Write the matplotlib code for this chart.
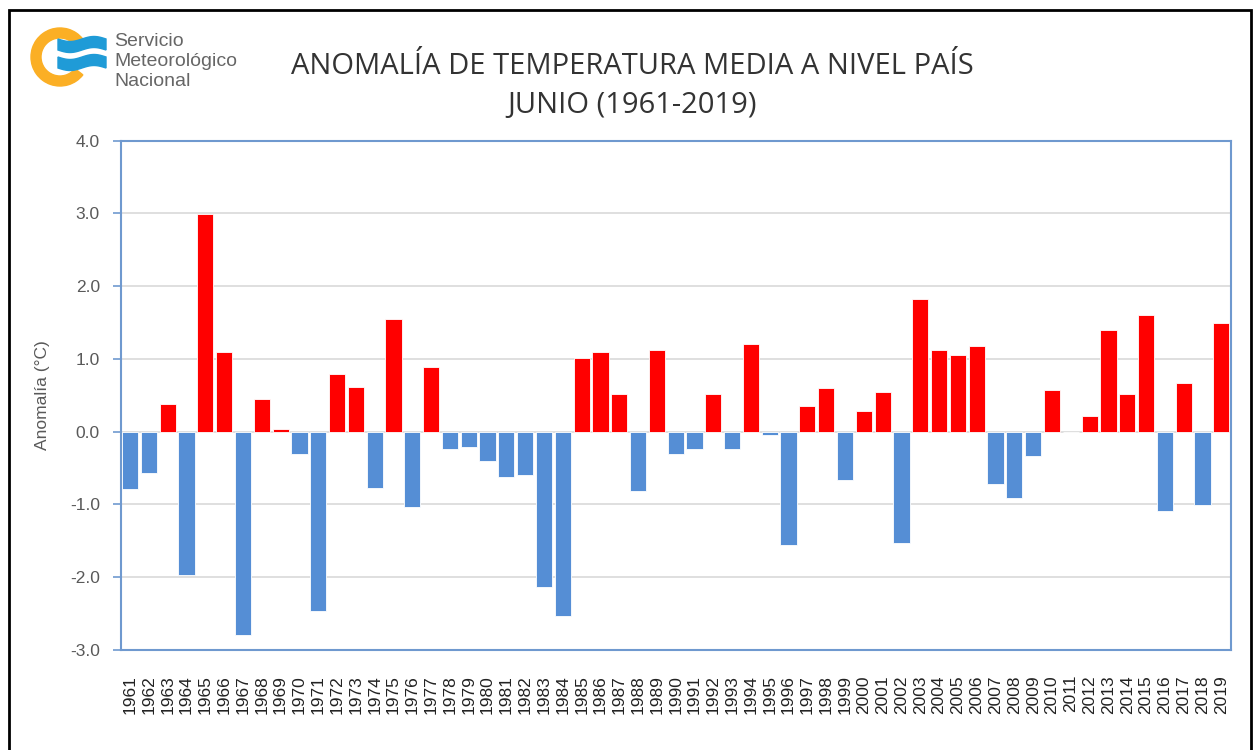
import matplotlib.pyplot as plt
import matplotlib.patches as mpatches
import numpy as np

# June mean temperature anomaly, whole country
years = list(range(1961, 2020))
anomalies = [-0.79, -0.57, 0.38, -1.97, 2.99, 1.09, -2.79, 0.45, 0.04, -0.30,
             -2.46, 0.79, 0.62, -0.77, 1.55, -1.04, 0.89, -0.24, -0.21, -0.40,
             -0.62, -0.60, -2.14, -2.53, 1.01, 1.09, 0.52, -0.82, 1.13, -0.30,
             -0.24, 0.52, -0.24, 1.21, -0.04, -1.55, 0.35, 0.60, -0.67, 0.28,
             0.55, -1.53, 1.82, 1.13, 1.06, 1.18, -0.72, -0.91, -0.33, 0.57,
             0.00, 0.21, 1.40, 0.52, 1.60, -1.09, 0.67, -1.01, 1.50]
yticks = [-3.0, -2.0, -1.0, 0.0, 1.0, 2.0, 3.0, 4.0]

title_font = ['Open Sans', 'DejaVu Sans']
body_font = ['Liberation Sans', 'DejaVu Sans']
red = '#ff0000'
blue = '#558ed5'
axis_blue = '#6f99cf'

fig = plt.figure(figsize=(12.6, 7.5), dpi=100)
W, H = 1260, 750

# outer black frame (cut off at the bottom like the screenshot)
fig.patches.append(mpatches.Rectangle((9 / W, -0.05), (1251 - 9) / W, 1.05 - 10 / H,
                                      transform=fig.transFigure, fill=False,
                                      edgecolor='black', linewidth=2))

ax = fig.add_axes([120.7 / W, 1 - 650 / H, 1110 / W, (650 - 140.7) / H])
x = np.arange(len(years))
colors = [red if v > 0 else blue for v in anomalies]
ax.bar(x, anomalies, width=0.86, color=colors, edgecolor='white', linewidth=0.6, zorder=3)

ax.set_xlim(-0.5, len(years) - 0.5)
ax.set_ylim(-3.0, 4.0)
ax.set_yticks(yticks)
ax.set_yticklabels(['%.1f' % t for t in yticks])
ax.set_xticks(x)
ax.set_xticklabels([str(y) for y in years], rotation=90)
ax.grid(axis='y', color='#d9d9d9', linewidth=1.2, zorder=0)
for s in ax.spines.values():
    s.set_color(axis_blue)
    s.set_linewidth(1.5)
ax.tick_params(axis='y', colors=axis_blue, length=6, width=1.2, labelcolor='#595959',
               labelsize=12.5, pad=9)
ax.tick_params(axis='x', length=0, labelcolor='#222222', labelsize=12.5, pad=18)
for lab in ax.get_xticklabels() + ax.get_yticklabels():
    lab.set_family(body_font)
ax.set_ylabel('Anomalía (°C)', fontsize=12.5, color='#595959', labelpad=14,
              family=body_font)

# title
fig.text(632 / W, 1 - 66 / H, 'ANOMALÍA DE TEMPERATURA MEDIA A NIVEL PAÍS',
         ha='center', va='center', fontsize=21, color='#333333', family=title_font)
fig.text(632 / W, 1 - 105 / H, 'JUNIO (1961-2019)',
         ha='center', va='center', fontsize=21, color='#333333', family=title_font)

# logo: orange ring with blue waves
lax = fig.add_axes([25 / W, 1 - 95 / H, 85 / W, 75 / H])
lax.set_xlim(0, 85)
lax.set_ylim(75, 0)
lax.set_aspect('equal')
lax.axis('off')
lax.add_patch(mpatches.Wedge((35, 37), 29, 38, 322, width=10, color='#fbaf25'))
t = np.linspace(0, 1, 60)
for yc in (25, 43):
    xs = 33 + 48 * t
    top = yc - 6 + 2.5 * np.sin(2 * np.pi * t)
    bot = yc + 5 + 2.5 * np.sin(2 * np.pi * t)
    lax.fill(np.r_[xs, xs[::-1]], np.r_[top, bot[::-1]], color='#1f9bd7')
for txt, yy in (('Servicio', 42), ('Meteorológico', 62), ('Nacional', 81)):
    fig.text(114 / W, 1 - yy / H, txt, fontsize=14, color='#666666',
             va='center', family=body_font)

plt.savefig('out.png', dpi=100)
